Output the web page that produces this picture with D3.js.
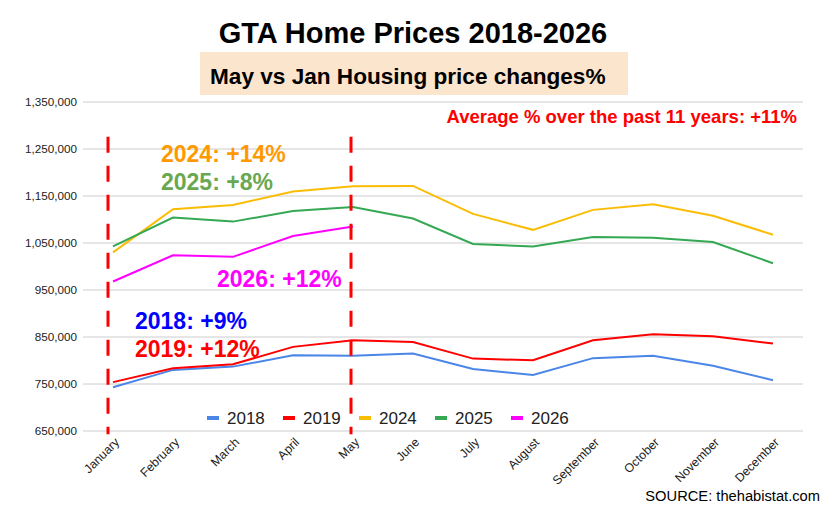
<!DOCTYPE html>
<html lang="en">
<head>
  <meta charset="UTF-8">
  <title>GTA Home Prices 2018-2026</title>
  <script src="https://d3js.org/d3.v7.min.js"></script>
  <style>
    body { margin: 0; background: #fff; }
    text { font-family: "Liberation Sans", Arial, sans-serif; }
    .grid line { stroke: #cccccc; stroke-width: 1px; }
    .line { fill: none; stroke-width: 2px; }
  </style>
</head>
<body>
<script>
  // ---- data ----
  const months = ["January", "February", "March", "April", "May", "June",
    "July", "August", "September", "October", "November", "December"];
  const yearNames = ["2018", "2019", "2024", "2025", "2026"];
  const yearColors = ["#4a86e8", "#ff0000", "#fbbc04", "#34a853", "#ff00ff"];
  const prices2018 = [743000, 780000, 787000, 811000, 810000, 815000, 782000, 769000, 805000, 810000, 789000, 758000];
  const prices2019 = [754000, 783500, 792000, 829000, 843000, 839500, 804000, 800500, 843000, 856000, 851500, 836000];
  const prices2024 = [1030000, 1122000, 1131000, 1159500, 1170500, 1171500, 1112000, 1078000, 1120500, 1132500, 1108000, 1067500];
  const prices2025 = [1043000, 1104000, 1095500, 1118000, 1126500, 1102000, 1048000, 1042500, 1063000, 1061000, 1052000, 1007000];
  const prices2026 = [968000, 1024000, 1020500, 1065000, 1085000];
  const yTicks = [650000, 750000, 850000, 950000, 1050000, 1150000, 1250000, 1350000];
  const notes = [
    { text: "2024: +14%", color: "#ff9900", month: "February", value: 1223000, dx: -12 },
    { text: "2025: +8%", color: "#6aa84f", month: "February", value: 1163000, dx: -12 },
    { text: "2026: +12%", color: "#ff00ff", month: "March", value: 957000, dx: -16 },
    { text: "2018: +9%", color: "#0000ff", month: "January", value: 866000, dx: 22 },
    { text: "2019: +12%", color: "#ff0000", month: "January", value: 807000, dx: 22 }
  ];

  const series = [prices2018, prices2019, prices2024, prices2025, prices2026];

  const W = 826, H = 506;
  const svg = d3.select("body").append("svg")
    .attr("width", W).attr("height", H);

  const x = d3.scaleBand().domain(months).range([83, 803]);
  const xc = m => x(m) + x.bandwidth() / 2;
  const y = d3.scaleLinear().domain([650000, 1350000]).range([431, 102]);

  // title + subtitle box
  svg.append("text")
    .attr("x", 413).attr("y", 42.5)
    .attr("text-anchor", "middle")
    .attr("font-size", 29).attr("font-weight", "bold")
    .text("GTA Home Prices 2018-2026");

  svg.append("rect")
    .attr("x", 200).attr("y", 52).attr("width", 428).attr("height", 43)
    .attr("fill", "#fce5cd");
  svg.append("text")
    .attr("x", 210).attr("y", 84)
    .attr("font-size", 22.6).attr("font-weight", "bold")
    .text("May vs Jan Housing price changes%");

  // gridlines
  svg.append("g").attr("class", "grid")
    .selectAll("line").data(yTicks).join("line")
    .attr("x1", 83).attr("x2", 803)
    .attr("y1", d => y(d)).attr("y2", d => y(d));

  // y axis labels
  svg.append("g").selectAll("text").data(yTicks).join("text")
    .attr("x", 77).attr("y", d => y(d) + 4)
    .attr("text-anchor", "end")
    .attr("font-size", 11.7).attr("fill", "#222")
    .text(d => d3.format(",")(d));

  // x axis labels (rotated)
  svg.append("g").selectAll("text").data(months).join("text")
    .attr("transform", d => `translate(${xc(d) + 7},${443}) rotate(-45)`)
    .attr("text-anchor", "end")
    .attr("font-size", 12.3).attr("fill", "#222")
    .text(d => d);

  // lines
  const line = d3.line()
    .x((d, i) => xc(months[i]))
    .y(d => y(d));

  svg.append("g").selectAll("path").data(series).join("path")
    .attr("class", "line")
    .attr("stroke", (d, i) => yearColors[i])
    .attr("d", line);

  // dashed markers at January and May
  const markers = [{ month: "January", dx: -5 }, { month: "May", dx: -2 }];
  svg.append("g").selectAll("line").data(markers).join("line")
    .attr("x1", d => xc(d.month) + d.dx).attr("x2", d => xc(d.month) + d.dx)
    .attr("y1", y(1276000)).attr("y2", y(643000))
    .attr("stroke", "#ff0000").attr("stroke-width", 3)
    .attr("stroke-dasharray", "16,13");

  // legend
  const legend = svg.append("g").selectAll("g").data(yearNames).join("g")
    .attr("transform", (d, i) => `translate(${207 + i * 76},418)`);
  legend.append("rect")
    .attr("x", 0).attr("y", -2).attr("width", 12).attr("height", 4)
    .attr("fill", (d, i) => yearColors[i]);
  legend.append("text")
    .attr("x", 20).attr("y", 6)
    .attr("font-size", 17).attr("fill", "#222")
    .text(d => d);

  // percentage annotations, placed relative to the month's centre
  svg.append("g").selectAll("text").data(notes).join("text")
    .attr("x", d => xc(d.month) + d.dx)
    .attr("y", d => y(d.value))
    .attr("font-size", 23).attr("font-weight", "bold")
    .attr("fill", d => d.color)
    .text(d => d.text);

  svg.append("text")
    .attr("x", 797).attr("y", 123)
    .attr("text-anchor", "end")
    .attr("font-size", 18.5).attr("font-weight", "bold").attr("fill", "#ff0000")
    .text("Average % over the past 11 years: +11%");

  svg.append("text")
    .attr("x", 820).attr("y", 501)
    .attr("text-anchor", "end")
    .attr("font-size", 14.7).attr("fill", "#000")
    .text("SOURCE: thehabistat.com");
</script>
</body>
</html>
